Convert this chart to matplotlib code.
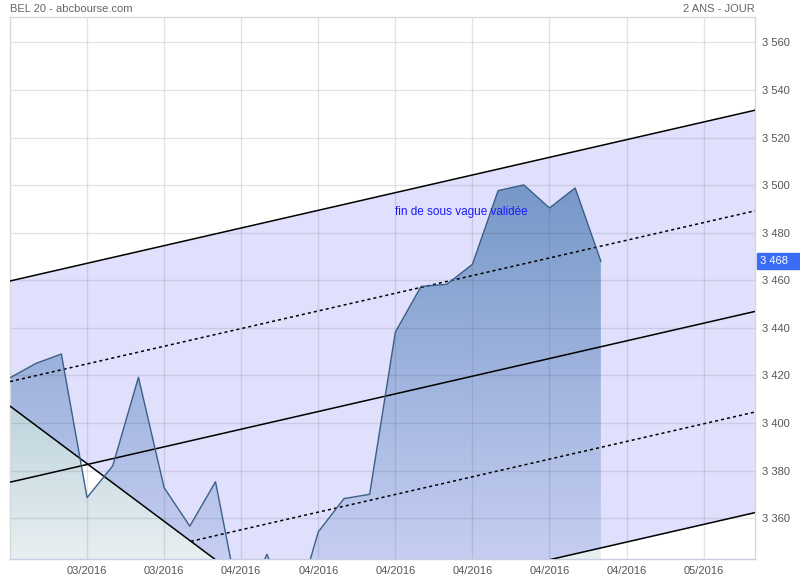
import numpy as np
import matplotlib
matplotlib.use('Agg')
import matplotlib.pyplot as plt
from matplotlib.path import Path
from matplotlib.patches import PathPatch, Rectangle

plt.rcParams['font.family'] = ['Liberation Sans', 'DejaVu Sans']

# daily closes (index = trading day)
price = [3419, 3425, 3429, 3368.6, 3382, 3419.2, 3372.8, 3356.6, 3375.3, 3320,
         3344.8, 3317, 3354.2, 3368.2, 3370, 3438.2, 3457.4, 3458.3, 3466.7,
         3497.7, 3500.1, 3490.4, 3498.8, 3468]
last_price = 3468

# channel lines: value at left edge (x=0) and at right edge (x=29)
channel_left = [3459.7, 3417.4, 3375.1, 3332.8, 3290.5]
channel_right = [3531.5, 3489.2, 3446.9, 3404.6, 3362.3]
channel_dotted = [False, True, False, True, False]

# descending trend line
desc_x = [0, 8]
desc_y = [3407.1, 3342.5]

xtick_pos = [3, 6, 9, 12, 15, 18, 21, 24, 27]
xtick_labels = ['03/2016', '03/2016', '04/2016', '04/2016', '04/2016',
                '04/2016', '04/2016', '04/2016', '05/2016']
ytick_vals = [3360, 3380, 3400, 3420, 3440, 3460, 3480, 3500, 3520, 3540, 3560]

x_max = 29
y_min, y_max = 3342.8, 3570.7

fig = plt.figure(figsize=(8, 5.8), dpi=100)
ax = fig.add_axes([10/800, 1 - 559/580, 745/800, (559 - 17)/580])
ax.set_xlim(0, x_max)
ax.set_ylim(y_min, y_max)

idx = np.arange(len(price))


def line_at(k, x):
    return channel_left[k] + (channel_right[k] - channel_left[k]) * x / x_max


def desc_at(x):
    return desc_y[0] + (desc_y[1] - desc_y[0]) * (x - desc_x[0]) / (desc_x[1] - desc_x[0])


# lavender channel band (bounded below by the descending line on the left)
xx = np.linspace(0, x_max, 3000)
bound = np.maximum(desc_at(xx), line_at(4, xx))
ax.fill_between(xx, bound, line_at(0, xx), color='#e0e0fc', lw=0, zorder=0.5)

# price area, split in two gradients
xp = np.linspace(0, idx[-1], 3000)
pp = np.interp(xp, idx, price)
bp = np.maximum(np.maximum(desc_at(xp), line_at(4, xp)), y_min)


def gradient_fill(poly, top, bottom, z):
    paths = poly.get_paths()
    if not paths:
        return
    comp = Path.make_compound_path(*paths)
    patch = PathPatch(comp, transform=ax.transData, fc='none', ec='none')
    ax.add_patch(patch)
    n = 256
    t = np.linspace(0, 1, n)[:, None]
    top = np.array(top) / 255
    bottom = np.array(bottom) / 255
    img = (top[None, :] * (1 - t) + bottom[None, :] * t)[:, None, :]
    im = ax.imshow(img, extent=[0, x_max, y_min, max(price)], origin='upper',
                   aspect='auto', zorder=z, interpolation='bilinear')
    im.set_clip_path(patch)
    poly.remove()


blue = ax.fill_between(xp, pp, bp, where=pp > bp, interpolate=True, fc='none', lw=0)
gradient_fill(blue, (118, 152, 200), (198, 206, 242), 1)
teal = ax.fill_between(xp, np.minimum(pp, bp), y_min, where=bp > y_min + 0.01,
                       interpolate=True, fc='none', lw=0)
gradient_fill(teal, (127, 172, 192), (232, 239, 241), 1)
ax.set_xlim(0, x_max)
ax.set_ylim(y_min, y_max)

# grid
for v in ytick_vals:
    ax.axhline(v, color='#4d4d66', alpha=0.15, lw=1, zorder=2)
for p in xtick_pos:
    ax.axvline(p, color='#4d4d66', alpha=0.15, lw=1, zorder=2)

# channel lines
x_cross = (channel_left[3] - desc_y[0]) / (
    (desc_y[1] - desc_y[0]) / (desc_x[1] - desc_x[0]) - (channel_right[3] - channel_left[3]) / x_max)
for k in range(len(channel_left)):
    x0 = x_cross if k == 3 else 0
    ax.plot([x0, x_max], [line_at(k, x0), line_at(k, x_max)], color='black',
            lw=1.1, ls=(0, (2, 2)) if channel_dotted[k] else '-', zorder=3)
ax.plot(desc_x, desc_y, color='black', lw=1.1, zorder=3)

ax.plot(idx, price, color='#3a6088', lw=1, zorder=4)

ax.text(15.0, 3488.8, 'fin de sous vague validée', color='#1a1aff', fontsize=8.5,
        va='center', ha='left', zorder=5)

# axes styling
for s in ax.spines.values():
    s.set_color('#d8d8d8')
    s.set_linewidth(1)
ax.spines['bottom'].set_color('#c8cce0')
ax.yaxis.tick_right()
ax.set_yticks(ytick_vals)
ax.set_yticklabels([f'{v // 1000} {v % 1000:03d}' for v in ytick_vals])
ax.set_xticks(xtick_pos)
ax.set_xticklabels(xtick_labels)
ax.tick_params(length=0, labelsize=8, colors='#555555')
ax.tick_params(axis='y', pad=5)
ax.tick_params(axis='x', pad=5)

# last price marker
yfrac = (last_price - y_min) / (y_max - y_min)
ypix = 559 - yfrac * (559 - 17)
fig.patches.append(Rectangle((757/800, 1 - (ypix + 8)/580), 43/800, 16/580,
                             transform=fig.transFigure, color='#3b6cf5', zorder=5))
fig.text(760/800, 1 - ypix/580, f'{last_price // 1000} {last_price % 1000:03d}',
         color='white', fontsize=8, va='center', ha='left', zorder=6)

fig.text(10/800, 1 - 9/580, 'BEL 20 - abcbourse.com', color='#666666', fontsize=8, va='center')
fig.text(755/800, 1 - 9/580, '2 ANS - JOUR', color='#666666', fontsize=8, va='center', ha='right')

fig.savefig('out.png', dpi=100)
